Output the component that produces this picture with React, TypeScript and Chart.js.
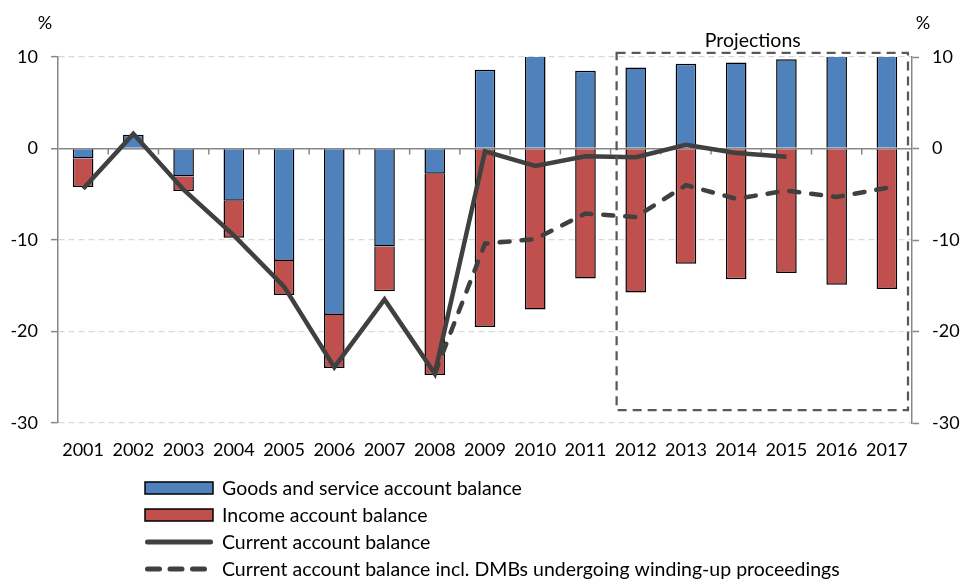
import React, { useEffect, useRef } from "react";
import { Chart, registerables } from "chart.js";

Chart.register(...registerables);

const years = ["2001", "2002", "2003", "2004", "2005", "2006", "2007", "2008", "2009", "2010", "2011", "2012", "2013", "2014", "2015", "2016", "2017"];
const goodsServices = [-1.1, 1.5, -3.05, -5.7, -12.3, -18.2, -10.7, -2.75, 8.6, 10.5, 8.5, 8.85, 9.25, 9.4, 9.75, 10.3, 10.6];
const incomeAccount = [-3.1, -0.1, -1.6, -4.05, -3.7, -5.8, -4.9, -22.0, -19.5, -17.6, -14.2, -15.75, -12.6, -14.3, -13.6, -14.9, -15.35];
const currentAccount = [-4.4, 1.6, -4.5, -9.5, -15.1, -23.9, -16.5, -24.6, -0.3, -1.9, -0.85, -0.95, 0.4, -0.5, -0.9, null, null];
const currentAccountInclDMB = [null, null, null, null, null, null, null, -24.6, -10.4, -9.9, -7.1, -7.5, -4.0, -5.5, -4.6, -5.3, -4.3];
const seriesLabels = [
  "Goods and service account balance",
  "Income account balance",
  "Current account balance",
  "Current account balance incl. DMBs undergoing winding-up proceedings",
];
const yMin = -30;
const yMax = 10;
const yStep = 10;
const unitLabel = "%";
const projectionLabel = "Projections";
// projection box extent in category-index / value units
const projectionBox = { fromIndex: 10.62, toIndex: 16.42, top: 10.45, bottom: -28.6, labelIndex: 13.33 };

const FONT = "Lato";
const BLUE = "#4F81BD";
const RED = "#C0504D";
const LINE = "#404040";
const AXIS = "#878787";
const GRID = "#D9D9D9";

const decorPlugin = {
  id: "decor",
  beforeDatasetsDraw(chart: any) {
    const { ctx, scales } = chart;
    const x = scales.x;
    const y = scales.y;
    const y0 = y.getPixelForValue(0);
    ctx.save();
    ctx.strokeStyle = AXIS;
    ctx.lineWidth = 1.5;
    for (let i = 1; i < years.length; i++) {
      const px = (x.getPixelForValue(i - 1) + x.getPixelForValue(i)) / 2;
      ctx.beginPath();
      ctx.moveTo(px, y0);
      ctx.lineTo(px, y0 + 6);
      ctx.stroke();
    }
    ctx.restore();
  },
  afterDraw(chart: any) {
    const { ctx, scales, chartArea } = chart;
    const x = scales.x;
    const y = scales.y;
    ctx.save();
    // unit labels
    ctx.fillStyle = "#000";
    ctx.font = `18px ${FONT}`;
    ctx.textBaseline = "middle";
    ctx.textAlign = "center";
    ctx.fillText(unitLabel, chartArea.left - 13, 23);
    ctx.fillText(unitLabel, chartArea.right + 11, 23);

    // projections box
    const bx1 = x.getPixelForValue(projectionBox.fromIndex);
    const bx2 = x.getPixelForValue(projectionBox.toIndex);
    const by1 = y.getPixelForValue(projectionBox.top);
    const by2 = y.getPixelForValue(projectionBox.bottom);
    ctx.strokeStyle = "#595959";
    ctx.lineWidth = 2.25;
    ctx.setLineDash([9, 6]);
    ctx.strokeRect(bx1, by1, bx2 - bx1, by2 - by1);
    ctx.setLineDash([]);
    ctx.fillStyle = "#000";
    ctx.font = `19.5px ${FONT}`;
    ctx.textAlign = "center";
    ctx.fillText(projectionLabel, x.getPixelForValue(projectionBox.labelIndex), by1 - 12);

    // legend
    const sx = 145;
    const ex = 213;
    const tx = 222;
    const rowY0 = 488;
    const rowH = 27;
    ctx.textAlign = "left";
    seriesLabels.forEach((label, i) => {
      const cy = rowY0 + i * rowH;
      const ds = chart.data.datasets[i];
      if (i < 2) {
        ctx.fillStyle = ds.backgroundColor;
        ctx.fillRect(sx, cy - 6, ex - sx, 12);
        ctx.strokeStyle = "#000";
        ctx.lineWidth = 1.5;
        ctx.strokeRect(sx, cy - 6, ex - sx, 12);
      } else {
        ctx.strokeStyle = ds.borderColor;
        ctx.lineWidth = 5;
        ctx.lineCap = "round";
        ctx.setLineDash(ds.borderDash ? [12, 10.5] : []);
        ctx.beginPath();
        ctx.moveTo(sx + 2.5, cy);
        ctx.lineTo(ex - 2.5, cy);
        ctx.stroke();
        ctx.setLineDash([]);
      }
      ctx.fillStyle = "#000";
      ctx.fillText(label, tx, cy + 1);
    });
    ctx.restore();
  },
};

export default function App() {
  const ref = useRef<HTMLCanvasElement | null>(null);
  useEffect(() => {
    document.body.style.margin = "0";
    const canvas = ref.current;
    if (!canvas) return;
    const tickFont = { family: FONT, size: 18 };
    const chart = new Chart(canvas, {
      type: "bar",
      data: {
        labels: years,
        datasets: [
          {
            type: "bar",
            label: seriesLabels[0],
            data: goodsServices,
            backgroundColor: BLUE,
            borderColor: "#000",
            borderWidth: 1.5,
            barPercentage: 0.41,
            categoryPercentage: 1,
            stack: "bars",
            order: 1,
            clip: 0,
          } as any,
          {
            type: "bar",
            label: seriesLabels[1],
            data: incomeAccount,
            backgroundColor: RED,
            borderColor: "#000",
            borderWidth: 1.5,
            barPercentage: 0.41,
            categoryPercentage: 1,
            stack: "bars",
            order: 1,
            clip: 0,
          } as any,
          {
            type: "line",
            label: seriesLabels[2],
            data: currentAccount,
            borderColor: LINE,
            borderWidth: 4.5,
            pointRadius: 0,
            tension: 0,
            stack: "ca",
            order: 0,
            borderJoinStyle: "miter",
          } as any,
          {
            type: "line",
            label: seriesLabels[3],
            data: currentAccountInclDMB,
            borderColor: LINE,
            borderWidth: 4.5,
            borderDash: [10, 12],
            borderCapStyle: "round",
            pointRadius: 0,
            tension: 0,
            stack: "caDMB",
            order: 0,
          } as any,
        ],
      },
      options: {
        responsive: false,
        animation: false,
        events: [],
        layout: { padding: { top: 57, bottom: 116, left: 0, right: 0 } },
        plugins: { legend: { display: false }, tooltip: { enabled: false } },
        scales: {
          x: {
            stacked: true,
            grid: { display: false, drawTicks: false },
            border: { display: false },
            ticks: { font: tickFont, color: "#000", padding: 16, maxRotation: 0, autoSkip: false },
            afterFit(scale: any) {
              scale.height = 40;
            },
          },
          y: {
            stacked: true,
            position: "left",
            min: yMin,
            max: yMax,
            ticks: { stepSize: yStep, font: tickFont, color: "#000", padding: 13 },
            grid: {
              color: (c: any) => (c.tick && c.tick.value === 0 ? AXIS : GRID),
              lineWidth: (c: any) => (c.tick && c.tick.value === 0 ? 1.5 : 1.25),
              tickColor: AXIS,
              tickLength: 7,
              tickWidth: 1.5,
              tickBorderDash: [],
            },
            border: {
              display: true,
              color: AXIS,
              width: 1.5,
              dash: (c: any) => (c.tick && c.tick.value === 0 ? [] : [6, 4]),
            },
            afterFit(scale: any) {
              scale.width = 58;
            },
          },
          y2: {
            position: "right",
            min: yMin,
            max: yMax,
            ticks: { stepSize: yStep, font: tickFont, color: "#000", padding: 13 },
            grid: { drawOnChartArea: false, color: AXIS, tickLength: 7, tickWidth: 1.5 },
            border: { display: true, color: AXIS, width: 1.5 },
            afterFit(scale: any) {
              scale.width = 48;
            },
          },
        },
      } as any,
      plugins: [decorPlugin],
    });
    return () => chart.destroy();
  }, []);
  return (
    <div style={{ width: 960, height: 579, background: "#fff" }}>
      <canvas ref={ref} width={960} height={579} />
    </div>
  );
}
